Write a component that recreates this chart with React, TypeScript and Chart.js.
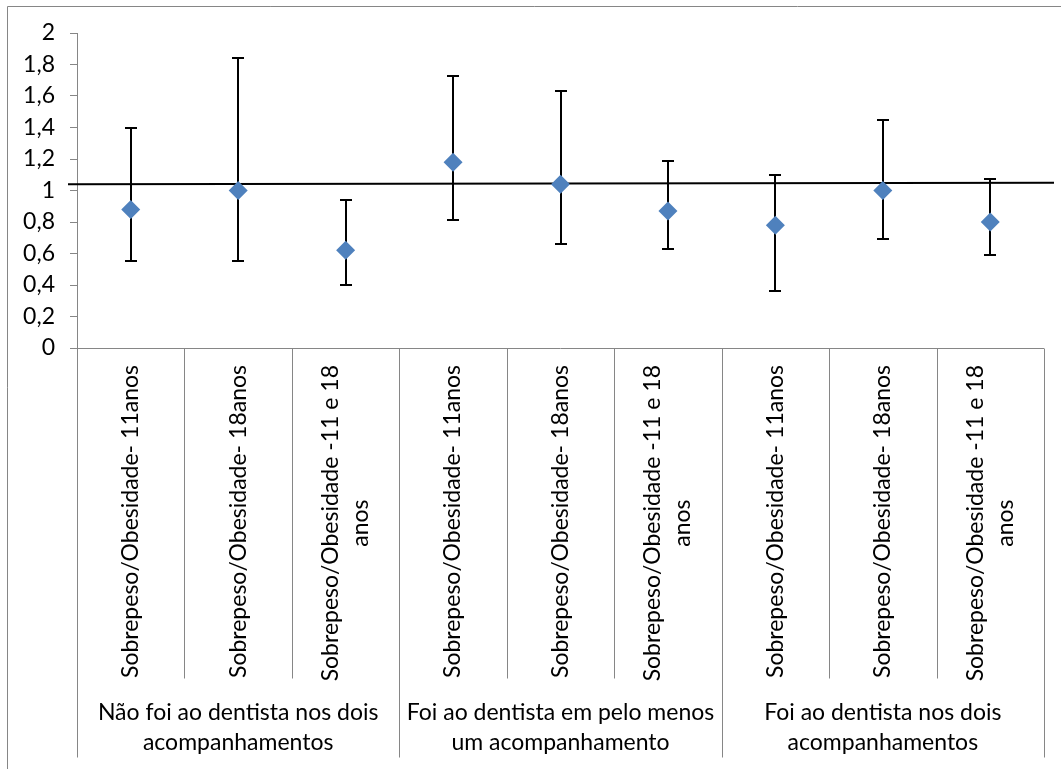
import React, { useEffect, useRef } from "react";
import { Chart, registerables } from "chart.js";

Chart.register(...registerables);

const categoryLabels: string[][] = [
  ["Sobrepeso/Obesidade- 11anos"],
  ["Sobrepeso/Obesidade- 18anos"],
  ["Sobrepeso/Obesidade -11 e 18", "anos"],
  ["Sobrepeso/Obesidade- 11anos"],
  ["Sobrepeso/Obesidade- 18anos"],
  ["Sobrepeso/Obesidade -11 e 18", "anos"],
  ["Sobrepeso/Obesidade- 11anos"],
  ["Sobrepeso/Obesidade- 18anos"],
  ["Sobrepeso/Obesidade -11 e 18", "anos"],
];

const groupLabels: string[][] = [
  ["Não foi ao dentista nos dois", "acompanhamentos"],
  ["Foi ao dentista em pelo menos", "um acompanhamento"],
  ["Foi ao dentista nos dois", "acompanhamentos"],
];

const oddsRatios: number[] = [0.88, 1.0, 0.62, 1.18, 1.04, 0.87, 0.78, 1.0, 0.8];
const lowerCI: number[] = [0.55, 0.55, 0.4, 0.81, 0.66, 0.63, 0.36, 0.69, 0.59];
const upperCI: number[] = [1.4, 1.84, 0.94, 1.73, 1.63, 1.19, 1.1, 1.45, 1.07];
const referenceLine: number[] = [1.04, 1.05];

const yMin = 0;
const yMax = 2;
const yStep = 0.2;

const FONT = "Lato, 'Noto Sans', sans-serif";
const GRAY = "#868686";

const overlayPlugin = {
  id: "overlay",
  beforeDatasetsDraw(chart: any) {
    const { ctx, chartArea, scales } = chart;
    const x = scales.x;
    const y = scales.y;
    ctx.save();
    ctx.strokeStyle = "#000";
    ctx.lineWidth = 2;
    // reference line
    ctx.beginPath();
    ctx.moveTo(chartArea.left - 9, y.getPixelForValue(referenceLine[0]));
    ctx.lineTo(chartArea.right + 10, y.getPixelForValue(referenceLine[1]));
    ctx.stroke();
    // error bars
    for (let i = 0; i < oddsRatios.length; i++) {
      const px = Math.round(x.getPixelForValue(i));
      const top = Math.round(y.getPixelForValue(upperCI[i]));
      const bot = Math.round(y.getPixelForValue(lowerCI[i]));
      ctx.beginPath();
      ctx.moveTo(px, top);
      ctx.lineTo(px, bot);
      ctx.moveTo(px - 6, top);
      ctx.lineTo(px + 6, top);
      ctx.moveTo(px - 6, bot);
      ctx.lineTo(px + 6, bot);
      ctx.stroke();
    }
    ctx.restore();
  },
  afterDraw(chart: any) {
    const { ctx, chartArea, scales } = chart;
    const x = scales.x;
    const y0 = Math.round(chartArea.bottom) + 0.5;
    ctx.save();
    // outer frame
    ctx.strokeStyle = GRAY;
    ctx.lineWidth = 1;
    ctx.beginPath();
    ctx.moveTo(7.5, chart.height);
    ctx.lineTo(7.5, 6.5);
    ctx.lineTo(chart.width, 6.5);
    ctx.stroke();
    // x axis line
    ctx.beginPath();
    ctx.moveTo(chartArea.left, y0);
    ctx.lineTo(chartArea.right, y0);
    ctx.stroke();
    // dividers
    const n = categoryLabels.length;
    for (let k = 0; k <= n; k++) {
      const bx = Math.round(x.getPixelForValue(k - 0.5)) + 0.5;
      const len = k % 3 === 0 ? 409 : 330;
      ctx.beginPath();
      ctx.moveTo(bx, y0);
      ctx.lineTo(bx, y0 + len);
      ctx.stroke();
    }
    // category labels
    ctx.fillStyle = "#000";
    ctx.font = `23px ${FONT}`;
    ctx.textAlign = "center";
    ctx.textBaseline = "middle";
    const lineH = 30;
    for (let i = 0; i < n; i++) {
      const lines = categoryLabels[i];
      const cx = x.getPixelForValue(i);
      const maxW = Math.max(...lines.map((l) => ctx.measureText(l).width));
      ctx.save();
      ctx.translate(cx, chartArea.bottom + 17);
      ctx.rotate(-Math.PI / 2);
      lines.forEach((l, j) => {
        ctx.fillText(l, -maxW / 2, (j - (lines.length - 1) / 2) * lineH);
      });
      ctx.restore();
    }
    // group labels
    ctx.textBaseline = "alphabetic";
    for (let g = 0; g < groupLabels.length; g++) {
      const left = x.getPixelForValue(g * 3 - 0.5);
      const right = x.getPixelForValue(g * 3 + 2.5);
      const cx = (left + right) / 2;
      groupLabels[g].forEach((l, j) => {
        ctx.fillText(l, cx, chartArea.bottom + 372 + j * lineH);
      });
    }
    ctx.restore();
  },
};

export default function App() {
  const canvasRef = useRef<HTMLCanvasElement | null>(null);

  useEffect(() => {
    if (!canvasRef.current) return;
    const chart = new Chart(canvasRef.current, {
      type: "line",
      data: {
        labels: categoryLabels.map((l) => l.join(" ")),
        datasets: [
          {
            label: "OR",
            data: oddsRatios,
            showLine: false,
            pointStyle: "rectRot",
            pointRadius: 9.5,
            pointHoverRadius: 9.5,
            pointBackgroundColor: "#4F81BD",
            pointBorderColor: "#4F81BD",
            pointBorderWidth: 0,
          },
        ],
      },
      options: {
        animation: false,
        responsive: true,
        maintainAspectRatio: false,
        layout: { padding: { left: 0, top: 33, right: 17, bottom: 421 } },
        plugins: {
          legend: { display: false },
          tooltip: { enabled: false },
        },
        scales: {
          x: {
            type: "category",
            display: false,
            offset: true,
          },
          y: {
            min: yMin,
            max: yMax,
            afterFit: (scale: any) => {
              scale.width = 77;
            },
            ticks: {
              stepSize: yStep,
              padding: 15,
              color: "#000",
              font: { family: FONT, size: 23 },
              callback: (v: any) => String(Math.round(Number(v) * 10) / 10).replace(".", ","),
            },
            grid: {
              display: true,
              drawOnChartArea: false,
              drawTicks: true,
              tickLength: 7,
              color: GRAY,
            },
            border: { display: true, color: GRAY, width: 1 },
          },
        },
      },
      plugins: [overlayPlugin],
    });
    return () => chart.destroy();
  }, []);

  return (
    <div style={{ position: "fixed", left: 0, top: 0, width: 1061, height: 769, background: "#fff" }}>
      <canvas ref={canvasRef} />
    </div>
  );
}
